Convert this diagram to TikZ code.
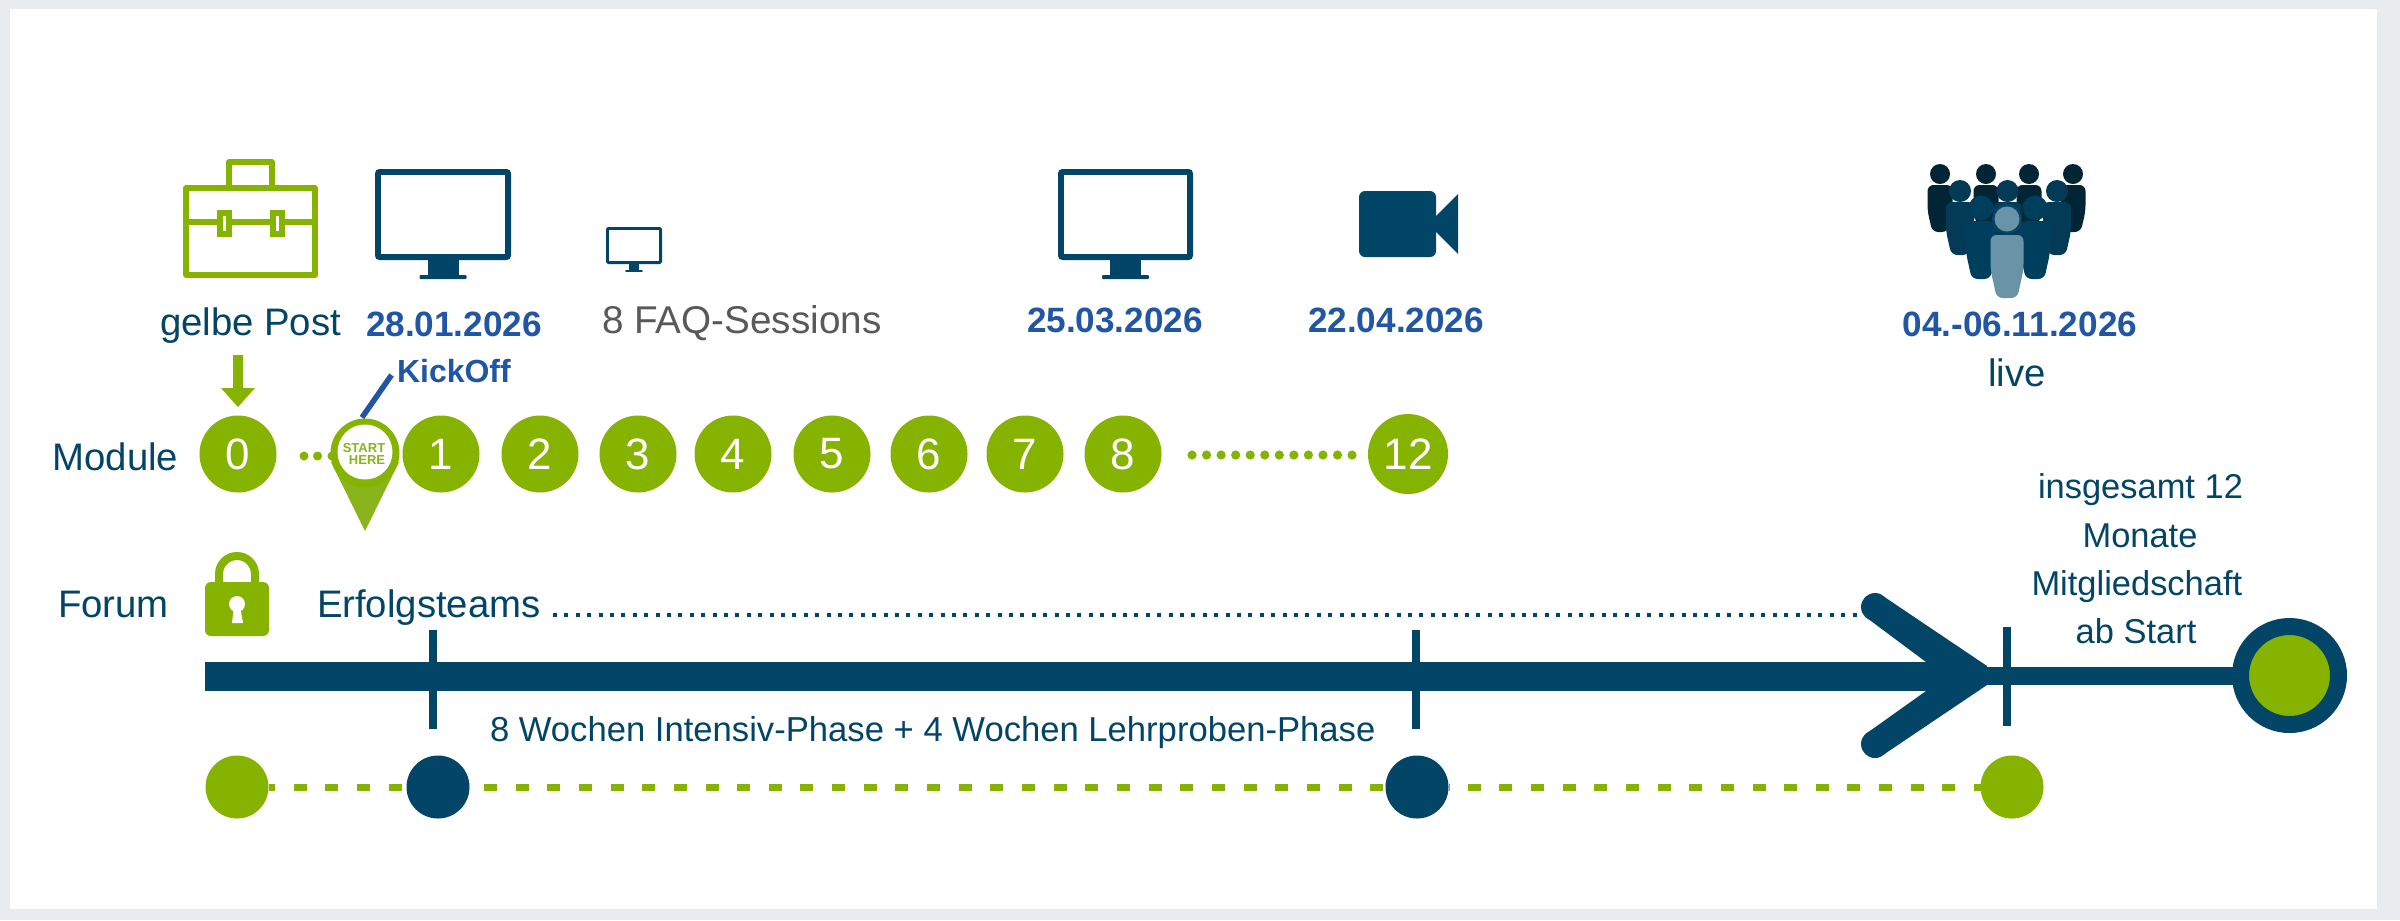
\documentclass[tikz,border=0pt]{standalone}
\usepackage{fontspec}
\setmainfont{Liberation Sans}
\definecolor{navy}{HTML}{034566}
\definecolor{grn}{HTML}{86B300}
\definecolor{pingrn}{HTML}{8AB41C}
\definecolor{blu}{HTML}{2156A5}
\definecolor{gry}{HTML}{595959}
\definecolor{bgc}{HTML}{E8ECEF}
\definecolor{pa}{HTML}{012535}
\definecolor{pb}{HTML}{033A56}
\definecolor{pc}{HTML}{003E5E}
\definecolor{pd}{HTML}{6A93A8}
\newdimen\pxu \pxu=0.01cm
\tikzset{
  lbl/.style={inner sep=0pt,outer sep=0pt,text=navy,font=\fontsize{10.9}{13}\selectfont,anchor=base west},
  lbls/.style={lbl,font=\fontsize{9.8}{12}\selectfont},
  datum/.style={inner sep=0pt,outer sep=0pt,text=blu,font=\fontsize{10}{12}\selectfont\bfseries,anchor=base west},
  modnum/.style={circle,fill=grn,inner sep=0pt,outer sep=0pt,minimum size=77\pxu,text=white,font=\fontsize{12.5}{15}\selectfont},
  miles/.style={circle,inner sep=0pt,outer sep=0pt,minimum size=63\pxu},
  tick/.style={draw=navy,line width=8\pxu},
  greendash/.style={draw=grn,line width=7\pxu,dash pattern=on 13\pxu off 18.65\pxu},
}
% monitor: left right top bottom stand-half-width base-half-width border
\newcommand{\monitor}[7]{%
  \fill[navy,rounded corners=#7*0.7\pxu] (#1,#3) rectangle (#2,#4);
  \fill[white] ({#1+#7},{#3+#7}) rectangle ({#2-#7},{#4-#7});
  \fill[navy] ({(#1+#2)/2-#5},#4) rectangle ({(#1+#2)/2+#5},{#4+(#4-#3)*0.18});
  \fill[navy,rounded corners=1\pxu] ({(#1+#2)/2-#6},{#4+(#4-#3)*0.165}) rectangle ({(#1+#2)/2+#6},{#4+(#4-#3)*0.21});
}
% person: x headY headR halfwidth top bottom colour
\newcommand{\person}[7]{%
  \fill[#7] (#1,#2) circle (#3);
  \fill[#7,rounded corners=6\pxu] ({#1-#4},{#5+(#6-#5)*0.55}) -- ({#1-#4},#5) -- ({#1+#4},#5) -- ({#1+#4},{#5+(#6-#5)*0.55}) -- ({#1+#4*0.62},#6) -- ({#1-#4*0.62},#6) -- cycle;
}
\begin{document}
\begin{tikzpicture}[x=0.01cm,y=-0.01cm]
\useasboundingbox (0,0) rectangle (2400,920);
\fill[bgc] (0,0) rectangle (2400,920);
\fill[white] (10,9) rectangle (2377,909);

% briefcase
\begin{scope}[line width=5.5\pxu,line join=round]
\draw[grn] (186,188) rectangle (315,275);
\draw[grn] (229,186) -- (229,162) -- (272,162) -- (272,186);
\draw[grn] (186,222) -- (315,222);
\fill[grn] (217,210) rectangle (232,237);
\fill[grn] (270,210) rectangle (285,237);
\fill[white] (223,216) rectangle (226,231);
\fill[white] (276,216) rectangle (279,231);
\end{scope}

% monitors
\monitor{375}{511}{169}{260}{15.5}{23.5}{6}
\monitor{606}{662}{227}{264}{5}{9}{2.6}
\monitor{1058}{1193}{169}{260}{15.5}{23.5}{6}

% camera
\fill[navy,rounded corners=6\pxu] (1359,191) rectangle (1436,257);
\fill[navy] (1436,216) -- (1458,194) -- (1458,254) -- (1436,232) -- cycle;

% crowd
\person{1940}{174}{10}{12.5}{185}{232}{pa}
\person{1986}{174}{10}{12.5}{185}{232}{pa}
\person{2029}{174}{10}{12.5}{185}{232}{pa}
\person{2073}{174}{10}{12.5}{185}{232}{pa}
\person{1960}{191}{11}{14}{202}{255}{pb}
\person{2007.5}{191}{11}{14}{202}{255}{pb}
\person{2057}{191}{11}{14}{202}{255}{pb}
\person{1981}{208}{12.5}{15}{221}{279}{pc}
\person{2035}{208}{12.5}{15}{221}{279}{pc}
\fill[navy] (2007,219) circle (15);
\person{2007}{219}{12.5}{16.5}{235}{298}{pd}

% labels top
\node[lbl] (gelbe) at (160,335) {gelbe Post};
\node[datum] (d1) at (366,336) {28.01.2026};
\node[lbl,text=gry,font=\fontsize{11}{13}\selectfont] (faq) at (602,333) {8 FAQ-Sessions};
\node[datum] (d2) at (1027,332) {25.03.2026};
\node[datum] (d3) at (1308,332) {22.04.2026};
\node[datum] (d4) at (1902.5,336) {04.-06.11.2026};
\node[lbl] (live) at (1988,386) {live};
\node[datum,font=\fontsize{9.1}{11}\selectfont\bfseries] (kick) at (397,382) {KickOff};

% module row
\node[lbl] (module) at (52.6,470) {Module};
\node[modnum] (m0) at (238,454) {0};
\node[modnum] (m1) at (441,454) {1};
\node[modnum] (m2) at (540,454) {2};
\node[modnum] (m3) at (638,454) {3};
\node[modnum] (m4) at (733,454) {4};
\node[modnum] (m5) at (832,454) {5};
\node[modnum] (m6) at (929,454) {6};
\node[modnum] (m7) at (1025,454) {7};
\node[modnum] (m8) at (1123,454) {8};
\node[modnum,minimum size=80\pxu] (m12) at (1408,454) {12};

% arrow post -> module 0
\fill[grn] (233,355) -- (243,355) -- (243,388) -- (255,388) -- (238,407) -- (221,388) -- (233,388) -- cycle;

% dots
\foreach \x in {304,317.5,332} \fill[grn] (\x,456) circle (4.5);
\foreach \i in {0,...,11} \fill[grn] ({1192+14.55*\i},455) circle (4.6);

% pin
\fill[pingrn] (331,462) -- (399,462) -- (365,531) -- cycle;
\node[circle,fill=grn,inner sep=0pt,outer sep=0pt,minimum size=69\pxu] (pin) at (365,453) {};
\node[circle,fill=white,inner sep=0pt,minimum size=55\pxu] (pinin) at (365,452) {};
\node[inner sep=0pt,text=pingrn,font=\fontsize{3.7}{3.4}\selectfont\bfseries,anchor=base] (st) at (364,452) {START};
\node[inner sep=0pt,text=pingrn,font=\fontsize{3.7}{3.4}\selectfont\bfseries,anchor=base] (he) at (367,464) {HERE};
\coordinate (kickend) at (391.5,375);
\draw[blu,line width=5.5\pxu] (pin.north) ++(-3,-1) -- (kickend);

% forum row
\node[lbl] (forum) at (58,617) {Forum};
\node[lbl] (erfolg) at (317,617) {Erfolgsteams};
% padlock
\draw[grn,line width=8\pxu] (219,585) -- (219,574) arc[start angle=180,end angle=360,radius=18] -- (255,585);
\fill[grn,rounded corners=6\pxu] (205,582) rectangle (269,636);
\fill[white] (237,604) circle (8);
\fill[white] (234,606) -- (240,606) -- (243,623) -- (232,623) -- cycle;

\coordinate (dotsA) at (553,615);
\coordinate (dotsB) at (1862,615);
\draw[navy,line width=4.5\pxu,dash pattern=on 4\pxu off 7.4\pxu] (dotsA) -- (dotsB);

% main bar
\coordinate (barL) at (205,676.5);
\coordinate (barR) at (1930,676.5);
\draw[navy,line width=29\pxu] (barL) -- (barR);
\fill[navy] (1883,596) -- (1987,666) -- (1987,685) -- (1883,755) -- (1867,733) -- (1926,691) -- (1926,662) -- (1867,618) -- cycle;
\fill[navy] (1875,607) circle (14);
\fill[navy] (1875,744) circle (14);
\node[circle,draw=navy,fill=grn,line width=17\pxu,inner sep=0pt,outer sep=0pt,minimum size=98\pxu] (ring) at (2289.5,675.5) {};
\coordinate (barT) at (1985,675.5);
\draw[navy,line width=18\pxu] (barT) -- (ring);

% ticks
\draw[tick] (433,630) -- (433,729);
\draw[tick] (1416,630) -- (1416,729);
\draw[tick] (2006.6,627) -- (2006.6,726);

% texts around bar
\node[lbls,font=\fontsize{9.85}{12}\selectfont] (wochen) at (490,741) {8 Wochen Intensiv-Phase + 4 Wochen Lehrproben-Phase};
\node[lbls] (t1) at (2038,498) {insgesamt 12};
\node[lbls,anchor=base] (t2) at (2140,547) {Monate};
\node[lbls] (t3) at (2031.5,595) {Mitgliedschaft};
\node[lbls,anchor=base] (t4) at (2136,643) {ab Start};

% milestones
\node[miles,fill=grn] (c1) at (237,787) {};
\node[miles,fill=navy] (c2) at (438,787) {};
\node[miles,fill=navy] (c3) at (1417,787) {};
\node[miles,fill=grn] (c4) at (2012,787) {};
\draw[greendash,dash phase=6.5\pxu] (c1) -- (c2);
\draw[greendash,dash phase=17.2\pxu] (c2) -- (c3);
\draw[greendash,dash phase=12.5\pxu] (c3) -- (c4);
\end{tikzpicture}
\end{document}
